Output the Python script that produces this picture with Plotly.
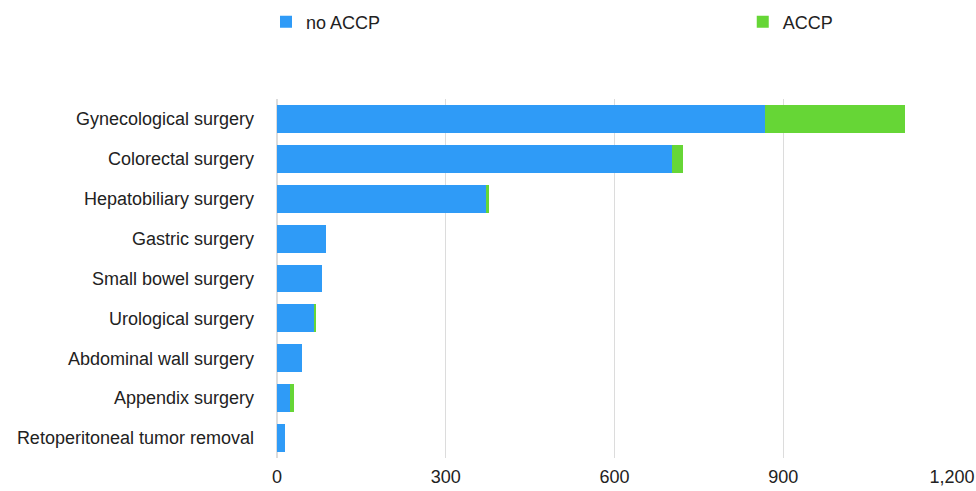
import plotly.graph_objects as go

categories = ["Gynecological surgery", "Colorectal surgery", "Hepatobiliary surgery",
              "Gastric surgery", "Small bowel surgery", "Urological surgery",
              "Abdominal wall surgery", "Appendix surgery", "Retoperitoneal tumor removal"]
no_accp = [867, 702, 372, 87, 80, 66, 44, 23, 14]
accp = [250, 20, 5, 0, 0, 3, 0, 7, 0]
tick_vals = [0, 300, 600, 900, 1200]
tick_text = ["0", "300", "600", "900", "1,200"]

fig = go.Figure()
fig.add_trace(go.Bar(y=categories, x=no_accp, orientation="h", name="no ACCP",
                     marker=dict(color="#2f9bf7", line=dict(width=0)), width=0.7,
                     legend="legend", showlegend=True))
fig.add_trace(go.Bar(y=categories, x=accp, orientation="h", name="ACCP",
                     marker=dict(color="#66d636", line=dict(width=0)), width=0.7,
                     legend="legend2", showlegend=True))

fig.update_layout(
    barmode="stack",
    showlegend=True,
    width=976, height=491,
    margin=dict(l=277, r=24, t=99, b=33, autoexpand=False),
    plot_bgcolor="white", paper_bgcolor="white",
    font=dict(family="Liberation Sans, Arial, sans-serif", size=18, color="#222"),
    legend=dict(x=-0.0163, xanchor="left", y=1.2145, yanchor="middle",
                font=dict(size=18), bgcolor="rgba(0,0,0,0)", visible=True),
    legend2=dict(x=0.690, xanchor="left", y=1.2145, yanchor="middle",
                 font=dict(size=18), bgcolor="rgba(0,0,0,0)", visible=True),
    xaxis=dict(range=[0, 1200], tickvals=tick_vals, ticktext=tick_text,
               showgrid=True, gridcolor="#dcdcdc", gridwidth=1,
               zeroline=True, zerolinecolor="#dcdcdc", showline=False,
               tickfont=dict(size=18), ticks="", ticklabelstandoff=6),
    yaxis=dict(autorange="reversed", showgrid=False, ticks="",
               ticklabelstandoff=22, tickfont=dict(size=18)),
)
fig.write_html("out.html")
